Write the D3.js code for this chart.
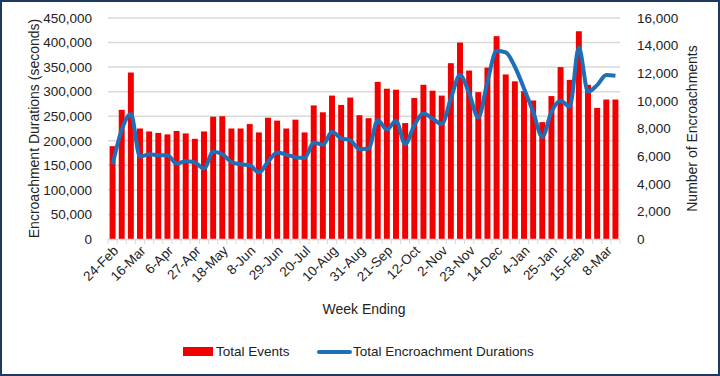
<!DOCTYPE html>
<html>
<head>
<meta charset="utf-8">
<script src="https://cdn.jsdelivr.net/npm/d3@7"></script>
<style>
  body { margin: 0; background: #fff; }
  text { font-family: "Liberation Sans", Arial, sans-serif; fill: #222; }
</style>
</head>
<body>
<div id="chart"></div>
<script>
// week ending dates (every week, labels shown every 3rd)
const weeks = [
  '24-Feb','3-Mar','10-Mar','16-Mar','23-Mar','30-Mar','6-Apr','13-Apr','20-Apr','27-Apr',
  '4-May','11-May','18-May','25-May','1-Jun','8-Jun','15-Jun','22-Jun','29-Jun','6-Jul',
  '13-Jul','20-Jul','27-Jul','3-Aug','10-Aug','17-Aug','24-Aug','31-Aug','7-Sep','14-Sep',
  '21-Sep','28-Sep','5-Oct','12-Oct','19-Oct','26-Oct','2-Nov','9-Nov','16-Nov','23-Nov',
  '30-Nov','7-Dec','14-Dec','21-Dec','28-Dec','4-Jan','11-Jan','18-Jan','25-Jan','1-Feb',
  '8-Feb','15-Feb','22-Feb','1-Mar','8-Mar','15-Mar'
];

// Total Events (bars, left axis)
const totalEvents = [
  189000, 263000, 339000, 225000, 219000, 216000, 213000, 220000, 215000, 204000,
  219000, 249000, 250000, 225000, 225000, 234000, 217000, 247000, 241000, 225000,
  243000, 217000, 272000, 258000, 292000, 273000, 288000, 252000, 246000, 320000,
  306000, 304000, 236000, 287000, 314000, 302000, 292000, 358000, 400000, 343000,
  299000, 349000, 413000, 335000, 321000, 301000, 282000, 238000, 291000, 350000,
  324000, 423000, 314000, 267000, 284000, 284000
];

// Total Encroachment Durations (line, right axis)
const totalDurations = [
  5400, 7900, 9050, 5950, 6140, 6070, 6070, 5460, 5630, 5540,
  5100, 6310, 6140, 5580, 5410, 5340, 4810, 5580, 6260, 6110,
  5920, 5870, 6980, 6820, 7760, 7280, 7150, 6500, 6550, 8600,
  7930, 8560, 6860, 8240, 9090, 8720, 8320, 10180, 11870, 10540,
  8800, 11380, 13630, 13510, 12470, 10900, 9210, 7400, 9210, 10010,
  9570, 13870, 10660, 11140, 11870, 11820
];

const leftTicks = d3.range(0, 450001, 50000);
const rightTicks = d3.range(0, 16001, 2000);

const width = 720, height = 376;
const plot = { left: 108, right: 620, top: 18, bottom: 239 };

const svg = d3.select('#chart').append('svg')
  .attr('width', width)
  .attr('height', height);

svg.append('rect')
  .attr('x', 1).attr('y', 1)
  .attr('width', width - 2).attr('height', height - 2)
  .attr('fill', '#fff')
  .attr('stroke', '#1f3864')
  .attr('stroke-width', 2);

const x = d3.scaleBand()
  .domain(weeks)
  .range([plot.left, plot.right])
  .paddingInner(0.35)
  .paddingOuter(0.175);

const yLeft = d3.scaleLinear().domain([0, 450000]).range([plot.bottom, plot.top]);
const yRight = d3.scaleLinear().domain([0, 16000]).range([plot.bottom, plot.top]);

const fmt = d3.format(',');

// gridlines
svg.append('g')
  .selectAll('line')
  .data(leftTicks.slice(1))
  .enter().append('line')
    .attr('x1', plot.left).attr('x2', plot.right)
    .attr('y1', d => yLeft(d)).attr('y2', d => yLeft(d))
    .attr('stroke', '#d9d9d9')
    .attr('stroke-width', 1.5);

// left axis labels
svg.append('g')
  .attr('transform', 'translate(' + (plot.left - 13) + ',0)')
  .call(d3.axisLeft(yLeft).tickValues(leftTicks).tickFormat(fmt).tickSize(0))
  .call(g => g.select('.domain').remove())
  .selectAll('text')
    .attr('font-size', 13.5)
    .attr('fill', '#222');

// right axis labels
svg.append('g')
  .attr('transform', 'translate(' + (plot.right + 14) + ',0)')
  .call(d3.axisRight(yRight).tickValues(rightTicks).tickFormat(fmt).tickSize(0))
  .call(g => g.select('.domain').remove())
  .selectAll('text')
    .attr('font-size', 13.5)
    .attr('fill', '#222');

// bars
svg.append('g')
  .selectAll('rect')
  .data(weeks)
  .enter().append('rect')
    .attr('x', d => x(d))
    .attr('width', x.bandwidth())
    .attr('y', (d, i) => yLeft(totalEvents[i]))
    .attr('height', (d, i) => plot.bottom - yLeft(totalEvents[i]))
    .attr('fill', '#f20000');

// x axis baseline and ticks between categories
const step = x.step();
const xAxis = svg.append('g');
xAxis.append('line')
  .attr('x1', plot.left).attr('x2', plot.right)
  .attr('y1', plot.bottom + 0.5).attr('y2', plot.bottom + 0.5)
  .attr('stroke', '#d9d9d9').attr('stroke-width', 1.5);
xAxis.selectAll('line.tick')
  .data(d3.range(weeks.length + 1))
  .enter().append('line')
    .attr('class', 'tick')
    .attr('x1', i => plot.left + i * step)
    .attr('x2', i => plot.left + i * step)
    .attr('y1', plot.bottom)
    .attr('y2', plot.bottom + 5)
    .attr('stroke', '#d9d9d9');

// x tick labels every 3rd week
xAxis.selectAll('text')
  .data(weeks.filter((d, i) => i % 3 === 0))
  .enter().append('text')
    .attr('transform', d => 'translate(' + (x(d) + x.bandwidth() / 2 + 4) + ',' + (plot.bottom + 10) + ') rotate(-45)')
    .attr('text-anchor', 'end')
    .attr('dominant-baseline', 'middle')
    .attr('font-size', 13.5)
    .text(d => d);

// line
const line = d3.line()
  .x((d, i) => x(weeks[i]) + x.bandwidth() / 2)
  .y(d => yRight(d))
  .curve(d3.curveMonotoneX);

svg.append('path')
  .datum(totalDurations)
  .attr('d', line)
  .attr('fill', 'none')
  .attr('stroke', '#1f6fb8')
  .attr('stroke-width', 4)
  .attr('stroke-linejoin', 'round');

// axis titles
svg.append('text')
  .attr('transform', 'translate(35,' + (plot.top + plot.bottom) / 2 + ') rotate(-90)')
  .attr('text-anchor', 'middle')
  .attr('dominant-baseline', 'middle')
  .attr('font-size', 14)
  .text('Encroachment Durations (seconds)');

svg.append('text')
  .attr('transform', 'translate(693,' + (plot.top + plot.bottom) / 2 + ') rotate(-90)')
  .attr('text-anchor', 'middle')
  .attr('dominant-baseline', 'middle')
  .attr('font-size', 14)
  .text('Number of Encroachments');

svg.append('text')
  .attr('x', 364).attr('y', 310)
  .attr('text-anchor', 'middle')
  .attr('dominant-baseline', 'middle')
  .attr('font-size', 14)
  .text('Week Ending');

// legend
const legend = svg.append('g');
legend.append('rect')
  .attr('x', 183).attr('y', 347)
  .attr('width', 30).attr('height', 9)
  .attr('fill', '#f20000');
legend.append('text')
  .attr('x', 216).attr('y', 352)
  .attr('dominant-baseline', 'middle')
  .attr('font-size', 13.5)
  .text('Total Events');
legend.append('line')
  .attr('x1', 319).attr('x2', 350)
  .attr('y1', 352).attr('y2', 352)
  .attr('stroke', '#1f6fb8')
  .attr('stroke-width', 4)
  .attr('stroke-linecap', 'round');
legend.append('text')
  .attr('x', 353).attr('y', 352)
  .attr('dominant-baseline', 'middle')
  .attr('font-size', 13.5)
  .text('Total Encroachment Durations');
</script>
</body>
</html>
